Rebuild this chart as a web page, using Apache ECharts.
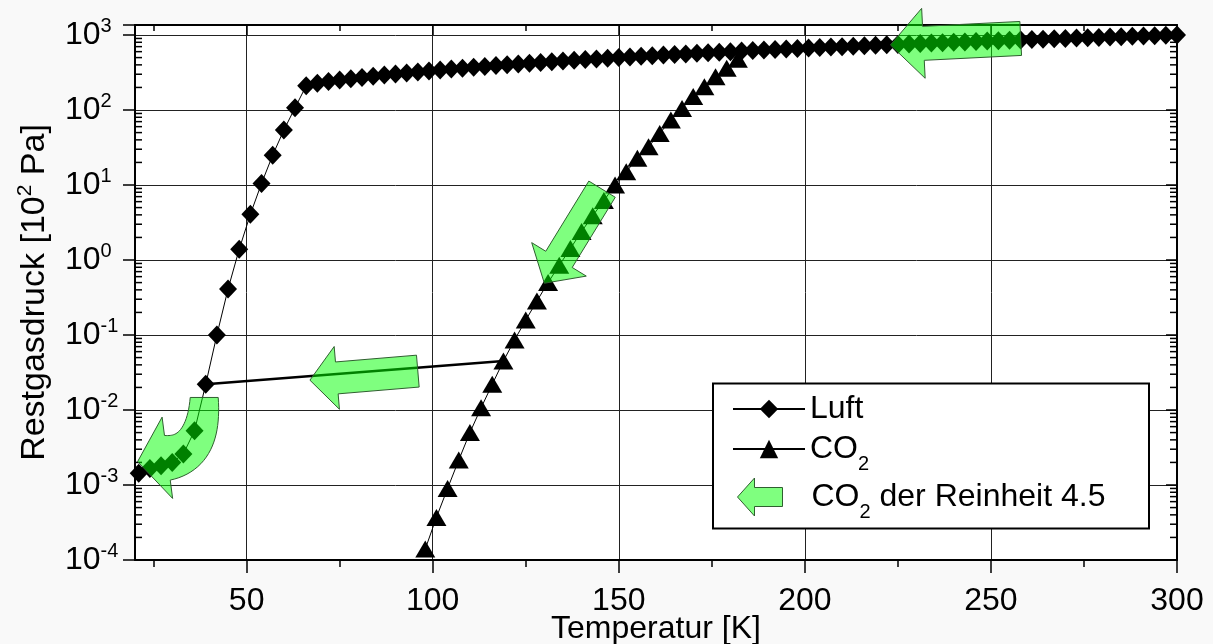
<!DOCTYPE html>
<html lang="de">
<head>
<meta charset="UTF-8">
<title>Restgasdruck</title>
<script src="https://cdn.jsdelivr.net/npm/echarts@6.0.0/dist/echarts.min.js"></script>
<style>
html, body { margin: 0; padding: 0; background: #f9f9f9; }
#main { width: 1213px; height: 644px; }
</style>
</head>
<body>
<div id="main"></div>
<script>
// Messwerte: Temperatur [K] / Restgasdruck [10^2 Pa]
var luftT = [21,24,27,30,33,36,39,42,45,48,51,54,57,60,63,66,69,72,75,78,81,84,87,90,93,96,99,102,105,108,
  111,114,117,120,123,126,129,132,135,138,141,144,147,150,153,156,159,162,165,168,171,174,177,180,183,186,189,192,195,198,
  201,204,207,210,213,216,219,222,225,228,231,234,237,240,243,246,249,252,255,258,261,264,267,270,273,276,279,282,285,288,
  291,294,297,300];
var luftP = [0.00144,0.00166,0.0018,0.002,0.0026,0.0053,0.022,0.1,0.41,1.39,4.07,10.5,25,54,107,210,
  228,240,251,262,272,283,292,302,312,322,332,342,352,361,371,381,391,401,411,420,
  431,440,450,460,471,480,490,500,510,520,531,540,550,560,570,581,590,600,610,620,
  630,641,650,660,670,680,690,700,710,720,730,740,750,760,771,780,790,800,810,820,
  830,840,850,860,870,880,890,900,910,920,930,940,950,960,970,980,990,1000];

var co2T = [98,101,104,107,110,113,116,119,122,125,128,131,134,137,140,143,146,149,152,155,158,161,164,167,170,173,176,179,182];
var co2P = [0.00014,0.00037,0.0009,0.00215,0.005,0.0107,0.022,0.045,0.086,0.158,0.284,0.5,0.85,1.42,2.4,3.9,6.2,
  10,15,22.7,32.4,48.8,73.6,105,151,205,278,360,474];

// Verbindungslinie Luft -> CO2
var linkT = [39, 119];
var linkP = [0.022, 0.045];

// Pfeile "CO2 der Reinheit 4.5": Anfang, Spitze, Knickpunkt (nur gebogener Pfeil)
var arrowFromT = [258, 145.5, 96, 38.6];
var arrowFromP = [900, 8.8, 0.033, 0.0147];
var arrowToT = [223, 130, 67, 20.7];
var arrowToP = [736, 0.49, 0.025, 0.00205];
var arrowBendT = [null, null, null, 38.6];
var arrowBendP = [null, null, null, 0.00267];

var xTicks = [50, 100, 150, 200, 250, 300];
var xMinorTicks = [25, 75, 125, 175, 225, 275];

var FONT = 'Liberation Sans, Arial, sans-serif';
var GREEN = 'rgba(0,255,0,0.5)';
var GREEN_LINE = '#2f5f2f';

// Pfeilgroessen in Pixel
var arrowSize = [
  { body: 34, head: 70, len: 33 },
  { body: 31, head: 64, len: 28 },
  { body: 32, head: 63, len: 27 },
  { body: 28, bodyEnd: 45, head: 82, len: 30 }
];

// Nebenstriche der log. Achse
var yMinor = [];
for (var d = -4; d <= 2; d++) {
  for (var m = 2; m <= 9; m++) yMinor.push([20, m * Math.pow(10, d)]);
}

function pairs(a, b) {
  var out = [];
  for (var i = 0; i < a.length; i++) out.push([a[i], b[i]]);
  return out;
}

function renderArrow(params, api) {
  var i = params.dataIndex;
  var s = arrowSize[i];
  var p0 = api.coord([arrowFromT[i], arrowFromP[i]]);
  var p1 = api.coord([arrowToT[i], arrowToP[i]]);
  var h = s.head / 2;
  var pts;
  if (arrowBendT[i] == null) {
    var dx = p1[0] - p0[0], dy = p1[1] - p0[1], L = Math.sqrt(dx * dx + dy * dy);
    var ux = dx / L, uy = dy / L, nx = -uy, ny = ux;
    var bx = p1[0] - ux * s.len, by = p1[1] - uy * s.len;
    var b = s.body / 2;
    pts = [[p0[0] + nx * b, p0[1] + ny * b], [bx + nx * b, by + ny * b], [bx + nx * h, by + ny * h], p1,
      [bx - nx * h, by - ny * h], [bx - nx * b, by - ny * b], [p0[0] - nx * b, p0[1] - ny * b]];
  } else {
    var c = api.coord([arrowBendT[i], arrowBendP[i]]);
    var ex = p1[0] - c[0], ey = p1[1] - c[1], EL = Math.sqrt(ex * ex + ey * ey);
    var vx = ex / EL, vy = ey / EL;
    var e = [p1[0] - vx * s.len, p1[1] - vy * s.len];
    var inner = [], outer = [];
    for (var k = 0; k <= 24; k++) {
      var t = k / 24, mt = 1 - t;
      var x = mt * mt * p0[0] + 2 * mt * t * c[0] + t * t * e[0];
      var y = mt * mt * p0[1] + 2 * mt * t * c[1] + t * t * e[1];
      var tx = 2 * mt * (c[0] - p0[0]) + 2 * t * (e[0] - c[0]);
      var ty = 2 * mt * (c[1] - p0[1]) + 2 * t * (e[1] - c[1]);
      var tl = Math.sqrt(tx * tx + ty * ty);
      var qx = -ty / tl, qy = tx / tl;
      var w = (s.body + (s.bodyEnd - s.body) * t) / 2;
      inner.push([x + qx * w, y + qy * w]);
      outer.unshift([x - qx * w, y - qy * w]);
    }
    var enx = -vy, eny = vx;
    pts = inner.concat([[e[0] + enx * h, e[1] + eny * h], p1, [e[0] - enx * h, e[1] - eny * h]]).concat(outer);
  }
  return {
    type: 'polygon',
    shape: { points: pts },
    style: { fill: GREEN, stroke: GREEN_LINE, lineWidth: 1 }
  };
}

function renderMinor(params, api) {
  var v = api.value(1);
  var l = api.coord([20, v]);
  var r = api.coord([300, v]);
  return {
    type: 'group',
    children: [
      { type: 'line', shape: { x1: l[0], y1: l[1], x2: l[0] + 7, y2: l[1] }, style: { stroke: '#000', lineWidth: 1.5 } },
      { type: 'line', shape: { x1: r[0] - 7, y1: r[1], x2: r[0], y2: r[1] }, style: { stroke: '#000', lineWidth: 1.5 } }
    ]
  };
}

var supRich = {
  b: { fontSize: 32, lineHeight: 38, fontFamily: FONT, color: '#000' },
  s: { fontSize: 20, lineHeight: 38, verticalAlign: 'top', fontFamily: FONT, color: '#000' }
};
var nameRich = {
  s: { fontSize: 21, lineHeight: 40, verticalAlign: 'top', fontFamily: FONT, color: '#000' }
};
var legendText = {
  fontSize: 32, fontFamily: FONT, color: '#000', lineHeight: 50,
  rich: { sub: { fontSize: 20, fontFamily: FONT, color: '#000', lineHeight: 50, verticalAlign: 'bottom' } }
};

var chart = echarts.init(document.getElementById('main'));
chart.setOption({
  animation: false,
  textStyle: { fontFamily: FONT, color: '#000' },
  grid: {
    left: 135, right: 36, top: 25, bottom: 84, containLabel: false, outerBoundsMode: 'none',
    show: true, backgroundColor: '#fff', borderWidth: 0
  },
  xAxis: [
    {
      type: 'value', min: 20, max: 300, position: 'bottom',
      name: 'Temperatur [K]', nameLocation: 'middle', nameGap: 53, nameMoveOverlap: false,
      nameTextStyle: { fontSize: 32, fontFamily: FONT, color: '#000' },
      axisLine: { onZero: false, lineStyle: { color: '#000', width: 2 } },
      axisTick: { inside: false, length: 13, customValues: xTicks, lineStyle: { color: '#000', width: 1.5 } },
      axisLabel: { customValues: xTicks, fontSize: 32, margin: 25, color: '#000', fontFamily: FONT },
      splitLine: { show: true, lineStyle: { color: '#222', width: 1 } }
    },
    {
      type: 'value', min: 20, max: 300, position: 'bottom',
      axisLine: { show: false, onZero: false },
      axisTick: { inside: false, length: 7, customValues: xMinorTicks, lineStyle: { color: '#000', width: 1.5 } },
      axisLabel: { show: false }, splitLine: { show: false }
    },
    {
      type: 'value', min: 20, max: 300, position: 'top',
      axisLine: { onZero: false, lineStyle: { color: '#000', width: 2 } },
      axisTick: { inside: true, length: 10, customValues: xTicks, lineStyle: { color: '#000', width: 1.5 } },
      axisLabel: { show: false }, splitLine: { show: false }
    },
    {
      type: 'value', min: 20, max: 300, position: 'top',
      axisLine: { show: false, onZero: false },
      axisTick: { inside: true, length: 6, customValues: xMinorTicks, lineStyle: { color: '#000', width: 1.5 } },
      axisLabel: { show: false }, splitLine: { show: false }
    }
  ],
  yAxis: [
    {
      type: 'log', logBase: 10, min: 0.0001, max: 1360, position: 'left',
      name: 'Restgasdruck [10{s|2} Pa]', nameLocation: 'middle', nameGap: 80, nameMoveOverlap: false,
      nameTextStyle: { fontSize: 34, lineHeight: 40, fontFamily: FONT, color: '#000', rich: nameRich },
      axisLine: { onZero: false, lineStyle: { color: '#000', width: 2 } },
      axisTick: { inside: false, length: 12, lineStyle: { color: '#000', width: 1.5 } },
      axisLabel: {
        align: 'left', margin: 70, fontSize: 32, rich: supRich,
        formatter: function (v) {
          var lg = Math.log(v) / Math.LN10;
          var e = Math.round(lg);
          if (Math.abs(lg - e) > 0.01) return '';
          return '{b|10}{s|' + e + '}';
        }
      },
      splitLine: { show: true, lineStyle: { color: '#222', width: 1 } }
    },
    {
      type: 'log', logBase: 10, min: 0.0001, max: 1360, position: 'right',
      axisLine: { onZero: false, lineStyle: { color: '#000', width: 2 } },
      axisTick: { inside: true, length: 11, lineStyle: { color: '#000', width: 1.5 } },
      axisLabel: { show: false }, splitLine: { show: false }
    }
  ],
  legend: [
    {
      data: ['Luft', 'CO2'], orient: 'vertical', left: 732, top: 384, padding: 0,
      itemWidth: 72, itemHeight: 23, itemGap: -10, selectedMode: false, z: 10,
      textStyle: legendText,
      formatter: function (name) { return name === 'CO2' ? 'CO{sub|2}' : name; }
    },
    {
      data: [{
        name: 'CO2 der Reinheit 4.5',
        icon: 'path://M0,19 L17,0 L17,9.5 L45,9.5 L45,28.5 L17,28.5 L17,38 Z',
        itemStyle: { color: GREEN, borderColor: GREEN_LINE, borderWidth: 1 }
      }],
      orient: 'vertical', left: 737, top: 472, padding: 0,
      itemWidth: 45, itemHeight: 38, selectedMode: false, z: 10,
      textStyle: {
        fontSize: 32, fontFamily: FONT, color: '#000', lineHeight: 50, padding: [0, 0, 0, 24],
        rich: legendText.rich
      },
      formatter: function () { return 'CO{sub|2} der Reinheit 4.5'; }
    }
  ],
  graphic: {
    elements: [{
      type: 'rect', z: 3,
      shape: { x: 713, y: 383.5, width: 436, height: 145 },
      style: { fill: '#fff', stroke: '#000', lineWidth: 2 }
    }]
  },
  series: [
    {
      type: 'custom', name: 'minorTicks', silent: true, clip: false,
      renderItem: renderMinor, data: yMinor, encode: { x: 0, y: 1 }, z: 1
    },
    {
      type: 'line', name: 'link', data: pairs(linkT, linkP), symbol: 'none', silent: true,
      lineStyle: { color: '#000', width: 2.5 }, z: 2
    },
    {
      type: 'line', name: 'Luft', data: pairs(luftT, luftP),
      symbol: 'diamond', symbolSize: [18, 19],
      itemStyle: { color: '#000' }, lineStyle: { color: '#000', width: 1 }, z: 3
    },
    {
      type: 'line', name: 'CO2', data: pairs(co2T, co2P),
      symbol: 'triangle', symbolSize: [20, 17],
      itemStyle: { color: '#000' }, lineStyle: { color: '#000', width: 1 }, z: 3
    },
    {
      type: 'custom', name: 'CO2 der Reinheit 4.5', clip: false,
      renderItem: renderArrow, data: pairs(arrowFromT, arrowFromP), encode: { x: 0, y: 1 },
      itemStyle: { color: GREEN }, z: 5
    }
  ]
});
</script>
</body>
</html>
